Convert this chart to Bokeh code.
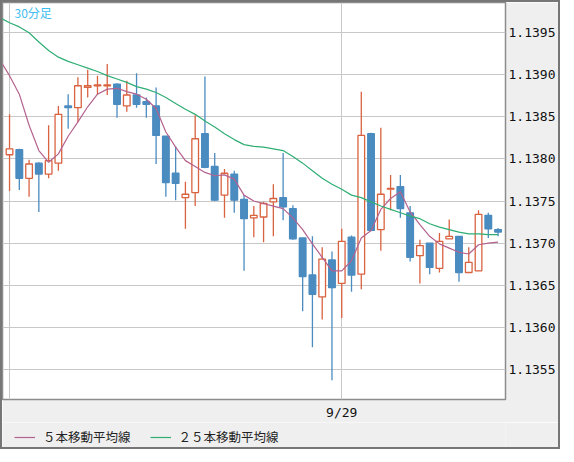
from bokeh.embed import file_html
from bokeh.layouts import column
from bokeh.models import (ColumnDataSource, FixedTicker, Label, Legend,
                          LegendItem, NumeralTickFormatter, Range1d)
from bokeh.plotting import figure
from bokeh.resources import INLINE


UP = "#d9623f"
DOWN = "#4a8bc0"
MA5_COLOR = "#b4628e"
MA25_COLOR = "#2fae74"
GRID = "#c8c8c8"
PANEL = "#efefef"
MONO = "DejaVu Sans Mono"
JP = "Noto Sans CJK JP"

# 30-minute bars, index 0 .. 50
opens = [1.13805, 1.13811, 1.13777, 1.13795, 1.13782, 1.13795, 1.13863, 1.13861,
         1.13885, 1.13887, 1.13887, 1.13889, 1.13863, 1.13876, 1.13868, 1.13863,
         1.13827, 1.13783, 1.13754, 1.13760, 1.13830, 1.13791, 1.13757, 1.13782,
         1.13752, 1.13730, 1.13731, 1.13749, 1.13754, 1.13741, 1.13706, 1.13662,
         1.13636, 1.13680, 1.13652, 1.13707, 1.13663, 1.13830, 1.13716, 1.13764,
         1.13767, 1.13736, 1.13685, 1.13700, 1.13670, 1.13705, 1.13708, 1.13665,
         1.13667, 1.13733, 1.13716]
highs = [1.13853, 1.13812, 1.13799, 1.13796, 1.13840, 1.13863, 1.13877, 1.13897,
         1.13906, 1.13899, 1.13913, 1.13890, 1.13893, 1.13902, 1.13873, 1.13885,
         1.13827, 1.13815, 1.13773, 1.13852, 1.13898, 1.13807, 1.13788, 1.13786,
         1.13757, 1.13744, 1.13749, 1.13770, 1.13807, 1.13745, 1.13706, 1.13708,
         1.13695, 1.13690, 1.13717, 1.13709, 1.13880, 1.13831, 1.13837, 1.13781,
         1.13781, 1.13744, 1.13704, 1.13700, 1.13712, 1.13728, 1.13708, 1.13695,
         1.13739, 1.13736, 1.13718]
lows = [1.13762, 1.13763, 1.13755, 1.13737, 1.13777, 1.13786, 1.13836, 1.13844,
        1.13873, 1.13876, 1.13876, 1.13849, 1.13856, 1.13861, 1.13849, 1.13794,
        1.13755, 1.13751, 1.13717, 1.13744, 1.13789, 1.13750, 1.13730, 1.13736,
        1.13667, 1.13707, 1.13701, 1.13708, 1.13727, 1.13704, 1.13619, 1.13576,
        1.13609, 1.13537, 1.13611, 1.13642, 1.13645, 1.13714, 1.13691, 1.13739,
        1.13730, 1.13678, 1.13652, 1.13663, 1.13665, 1.13705, 1.13654, 1.13665,
        1.13667, 1.13706, 1.13708]
closes = [1.13812, 1.13777, 1.13794, 1.13782, 1.13798, 1.13853, 1.13861, 1.13887,
          1.13887, 1.13888, 1.13888, 1.13865, 1.13876, 1.13865, 1.13865, 1.13828,
          1.13772, 1.13771, 1.13758, 1.13824, 1.13790, 1.13751, 1.13783, 1.13751,
          1.13729, 1.13733, 1.13747, 1.13753, 1.13743, 1.13705, 1.13660, 1.13639,
          1.13681, 1.13647, 1.13702, 1.13662, 1.13828, 1.13715, 1.13758, 1.13765,
          1.13741, 1.13683, 1.13697, 1.13671, 1.13702, 1.13708, 1.13665, 1.13677,
          1.13734, 1.13717, 1.13713]

# moving averages, index -1 .. 50 (first point sits just left of the frame)
ma5 = [1.13918, 1.13899, 1.13877, 1.13840, 1.13810, 1.13796, 1.13806, 1.13827,
       1.13844, 1.13862, 1.13877, 1.13883, 1.13884, 1.13880, 1.13877, 1.13871,
       1.13860, 1.13832, 1.13814, 1.13798, 1.13791, 1.13784, 1.13780, 1.13781,
       1.13776, 1.13757, 1.13750, 1.13747, 1.13744, 1.13741, 1.13730, 1.13716,
       1.13699, 1.13683, 1.13667, 1.13667, 1.13679, 1.13706, 1.13715, 1.13740,
       1.13753, 1.13761, 1.13737, 1.13722, 1.13708, 1.13699, 1.13694, 1.13689,
       1.13687, 1.13698, 1.13700, 1.13701]
ma25 = [1.13968, 1.13962, 1.13957, 1.13950, 1.13939, 1.13929, 1.13921, 1.13916,
        1.13912, 1.13908, 1.13904, 1.13899, 1.13895, 1.13891, 1.13886, 1.13883,
        1.13879, 1.13873, 1.13866, 1.13859, 1.13853, 1.13845, 1.13838, 1.13830,
        1.13823, 1.13817, 1.13815, 1.13814, 1.13812, 1.13810, 1.13803, 1.13795,
        1.13786, 1.13777, 1.13770, 1.13764, 1.13757, 1.13754, 1.13749, 1.13744,
        1.13740, 1.13736, 1.13732, 1.13729, 1.13723, 1.13719, 1.13716, 1.13713,
        1.13711, 1.13711, 1.13710, 1.13710]

price_ticks = [1.1355, 1.1360, 1.1365, 1.1370, 1.1375, 1.1380, 1.1385, 1.1390, 1.1395]
date_ticks = [34]
date_labels = ["9/29"]
vgrid_ticks = [0, 34]
ma_labels = ["５本移動平均線", "２５本移動平均線"]
title_text = "30分足"

bars = list(range(len(opens)))
is_up = [c >= o for o, c in zip(opens, closes)]
candles = ColumnDataSource(data=dict(
    x=bars,
    high=highs,
    low=lows,
    top=[max(o, c) for o, c in zip(opens, closes)],
    bottom=[min(o, c) for o, c in zip(opens, closes)],
    color=[UP if u else DOWN for u in is_up],
    fill=["white" if u else DOWN for u in is_up],
))
ma_x = list(range(-1, len(opens)))

p = figure(width=556, height=420, output_backend="svg", toolbar_location=None,
           x_range=Range1d(-0.72, 50.76), y_range=Range1d(1.13514, 1.13986),
           y_axis_location="right", min_border_left=0, min_border_top=0,
           min_border_right=2, min_border_bottom=22)
p.background_fill_color = "white"
p.border_fill_color = PANEL
p.outline_line_color = "#8c8c8c"
p.outline_line_width = 1.5

p.segment(x0="x", y0="high", x1="x", y1="low", line_color="color",
          line_width=1.3, source=candles)
p.vbar(x="x", top="top", bottom="bottom", width=0.68, fill_color="fill",
       line_color="color", line_width=1.3, source=candles)

p.line(ma_x, ma5, line_color=MA5_COLOR, line_width=1.2)
p.line(ma_x, ma25, line_color=MA25_COLOR, line_width=1.2)

p.ygrid.ticker = FixedTicker(ticks=price_ticks)
p.ygrid.grid_line_color = GRID
p.ygrid.grid_line_width = 1
p.xgrid.ticker = FixedTicker(ticks=vgrid_ticks)
p.xgrid.grid_line_color = GRID
p.xgrid.grid_line_width = 1

p.yaxis.ticker = FixedTicker(ticks=price_ticks)
p.yaxis.formatter = NumeralTickFormatter(format="0.0000")
p.yaxis.axis_line_color = None
p.yaxis.major_tick_line_color = None
p.yaxis.minor_tick_line_color = None
p.yaxis.major_tick_out = 0
p.yaxis.major_label_standoff = 3
p.yaxis.major_label_text_font = MONO
p.yaxis.major_label_text_font_size = "13px"
p.yaxis.major_label_text_color = "#111111"

p.xaxis.ticker = FixedTicker(ticks=date_ticks)
p.xaxis.major_label_overrides = dict(zip(date_ticks, date_labels))
p.xaxis.axis_line_color = None
p.xaxis.major_tick_line_color = None
p.xaxis.minor_tick_line_color = None
p.xaxis.major_tick_out = 0
p.xaxis.major_label_standoff = 5
p.xaxis.major_label_text_font = MONO
p.xaxis.major_label_text_font_size = "13px"
p.xaxis.major_label_text_color = "#111111"

p.add_layout(Label(x=12, y=1.13984, x_units="screen", text=title_text,
                   text_baseline="top", text_font=JP, text_font_size="12px",
                   text_color="#3fbdf0"))

# legend strip under the chart; the key lines reuse the averages but lie
# outside this strip's ranges, so only their legend swatches show
key = figure(width=556, height=25, output_backend="svg", toolbar_location=None,
             x_range=Range1d(0, 1), y_range=Range1d(0, 1),
             x_axis_location=None, y_axis_location=None,
             min_border_left=0, min_border_right=0, min_border_top=0,
             min_border_bottom=0)
key.grid.visible = False
key.outline_line_color = None
key.background_fill_color = PANEL
key.border_fill_color = PANEL
k5 = key.line(ma_x, ma5, line_color=MA5_COLOR, line_width=1.2)
k25 = key.line(ma_x, ma25, line_color=MA25_COLOR, line_width=1.2)

legend = Legend(items=[LegendItem(label=ma_labels[0], renderers=[k5]),
                       LegendItem(label=ma_labels[1], renderers=[k25])],
                orientation="horizontal", location=(12, 1))
legend.margin = 0
legend.padding = 4
legend.spacing = 19
legend.glyph_width = 21
legend.glyph_height = 12
legend.label_standoff = 8
legend.label_text_font = JP
legend.label_text_font_size = "12.5px"
legend.label_text_color = "#222222"
legend.border_line_color = None
legend.background_fill_alpha = 0
key.add_layout(legend)

page = column(p, key, spacing=0, styles={"border": "2px solid #767676"})
open("out.html", "w").write(file_html(page, INLINE))
